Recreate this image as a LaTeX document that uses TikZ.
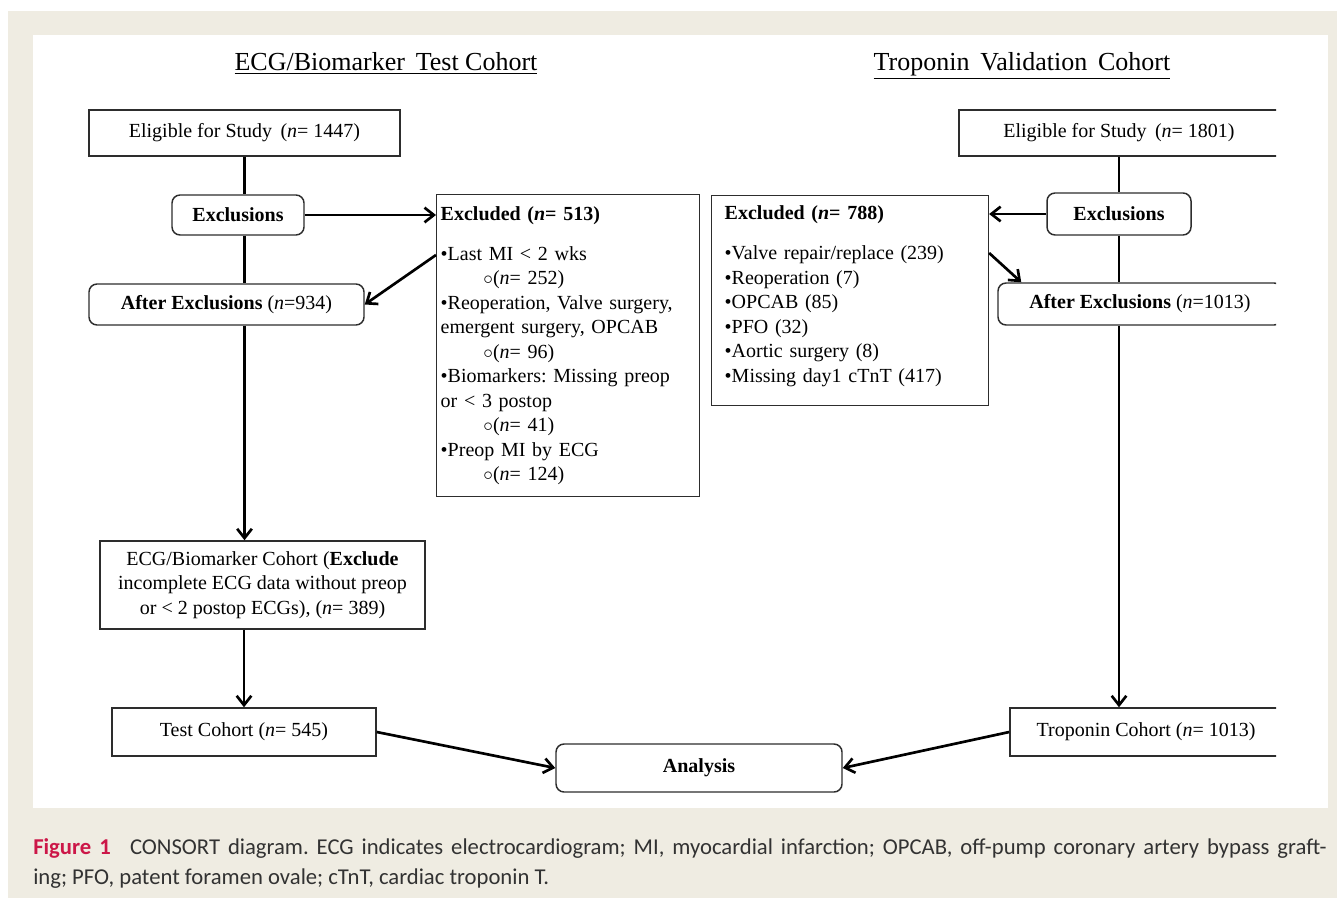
\documentclass[tikz,border=0pt]{standalone}
\usepackage{fontspec}
\setmainfont{Liberation Serif}
\newfontfamily\capfont{Carlito}
\usetikzlibrary{calc,arrows.meta}
\frenchspacing

\definecolor{pageBeige}{RGB}{239,236,226}
\definecolor{figRed}{RGB}{204,23,72}
\definecolor{capGray}{RGB}{50,50,50}
\definecolor{boxGray}{RGB}{45,45,45}

\tikzset{
    box/.style={draw=boxGray,line width=1.1pt,fill=white,align=center,inner sep=0pt,
        font=\fontsize{15}{18.4}\selectfont},
    roundbox/.style={box,rounded corners=6pt},
    listbox/.style={box,align=left,anchor=north west},
    link/.style={line width=2pt},
    flow/.style={link,-{Straight Barb[length=7pt,width=11pt]}},
    heading/.style={anchor=base,font=\fontsize{19.5}{22}\selectfont},
}

\begin{document}
\begin{tikzpicture}[x=0.75pt,y=-0.75pt]
    \useasboundingbox (0,0) rectangle (1337,898);
    \fill[white] (0,0) rectangle (1337,898);
    \fill[pageBeige] (8,11) rectangle (1337,898);
    \fill[white] (33,35) rectangle (1328,808);

    \node[heading] (titleL) at (386,71) {\underline{ECG/Biomarker\, Test Cohort}};
    \node[heading] (titleR) at (1022,71) {\underline{Troponin\, Validation\, Cohort}};

    % left column
    \node[box,minimum width=233.25pt,minimum height=34.5pt] (eligL) at (244.5,133)
        {Eligible for Study\, (\textit{n}= 1447)};
    \node[roundbox,minimum width=99pt,minimum height=30pt] (exclL) at (238,215)
        {\textbf{Exclusions}};
    \node[roundbox,minimum width=206.25pt,minimum height=30.75pt] (afterL) at (226.5,304.5)
        {\textbf{After Exclusions} (\textit{n}=934)};
    \node[listbox,inner xsep=3pt,text width=191pt,minimum height=226.5pt] (excludedL) at (436,194)
        {\textbf{Excluded (\textit{n}= 513)}\\[11.6pt]
         •Last MI < 2 wks\\
         \hspace*{32pt}$\circ$(\textit{n}= 252)\\
         •Reoperation, Valve surgery,\\
         emergent surgery, OPCAB\\
         \hspace*{32pt}$\circ$(\textit{n}= 96)\\
         •Biomarkers: Missing preop\\
         or < 3 postop\\
         \hspace*{32pt}$\circ$(\textit{n}= 41)\\
         •Preop MI by ECG\\
         \hspace*{32pt}$\circ$(\textit{n}= 124)};
    \node[box,minimum width=243.75pt,minimum height=66pt] (ecgL) at (262.5,585)
        {ECG/Biomarker Cohort (\textbf{Exclude}\\
         incomplete ECG data without preop\\
         or < 2 postop ECGs), (\textit{n}= 389)};
    \node[box,minimum width=198pt,minimum height=36pt] (testL) at (244,732)
        {Test Cohort (\textit{n}= 545)};

    \node[roundbox,minimum width=214.5pt,minimum height=36pt] (analysis) at (699,768)
        {\textbf{Analysis}};

    % right column
    \node[listbox,inner xsep=9.75pt,text width=188pt,minimum height=157.5pt] (excludedR) at (711,195)
        {\textbf{Excluded (\textit{n}= 788)}\\[11.6pt]
         •Valve repair/replace (239)\\
         •Reoperation (7)\\
         •OPCAB (85)\\
         •PFO (32)\\
         •Aortic surgery (8)\\
         •Missing day1 cTnT (417)\rule[-10pt]{0pt}{0pt}};
    \node[roundbox,minimum width=108pt,minimum height=31.5pt] (exclR) at (1119,214)
        {\textbf{Exclusions}};
    \begin{scope}
        \clip (0,0) rectangle (1276,898);
        \node[box,minimum width=240pt,minimum height=34.5pt] (eligR) at (1119,133)
            {Eligible for Study\, (\textit{n}= 1801)};
        \node[roundbox,minimum width=213pt,minimum height=31.5pt] (afterR) at (1140,304)
            {\textbf{After Exclusions} (\textit{n}=1013)};
        \node[box,minimum width=204pt,minimum height=36pt] (tropR) at (1146,732)
            {Troponin Cohort (\textit{n}= 1013)};
    \end{scope}

    \draw[link] (eligL.south) -- (eligL.south |- exclL.north);
    \draw[link] (eligL.south |- exclL.south) -- (eligL.south |- afterL.north);
    \draw[flow] (eligL.south |- afterL.south) -- (eligL.south |- ecgL.north);
    \draw[flow] (testL.north |- ecgL.south) -- (testL.north);
    \draw[flow] (exclL.east) -- (excludedL.west |- exclL.east);
    \draw[flow] ($(excludedL.north west)+(0,61)$) -- (afterL.east);

    \draw[link] (exclR.north |- eligR.south) -- (exclR.north);
    \draw[link] (exclR.south) -- (exclR.south |- afterR.north);
    \draw[flow] (exclR.south |- afterR.south) -- (exclR.south |- tropR.north);
    \draw[flow] (exclR.west) -- (excludedR.east |- exclR.west);
    \draw[flow] ($(excludedR.north east)+(0,58)$) -- ($(afterR.north west)+(24,0)$);

    \draw[flow] (testL.east) -- (analysis.west);
    \draw[flow] (tropR.west) -- (analysis.east);

    \node[anchor=north west,inner sep=0pt,text width=970pt,align=justify,text=capGray,
        font=\capfont\fontsize{17}{22.5}\selectfont] (caption) at (33,838)
        {\textcolor{figRed}{\textbf{Figure 1}}\hspace{0.5em} CONSORT diagram. ECG indicates electrocardiogram; MI, myocardial infarction; OPCAB, off-pump coronary artery bypass graft-\linebreak ing; PFO, patent foramen ovale; cTnT, cardiac troponin T.};
\end{tikzpicture}
\end{document}
